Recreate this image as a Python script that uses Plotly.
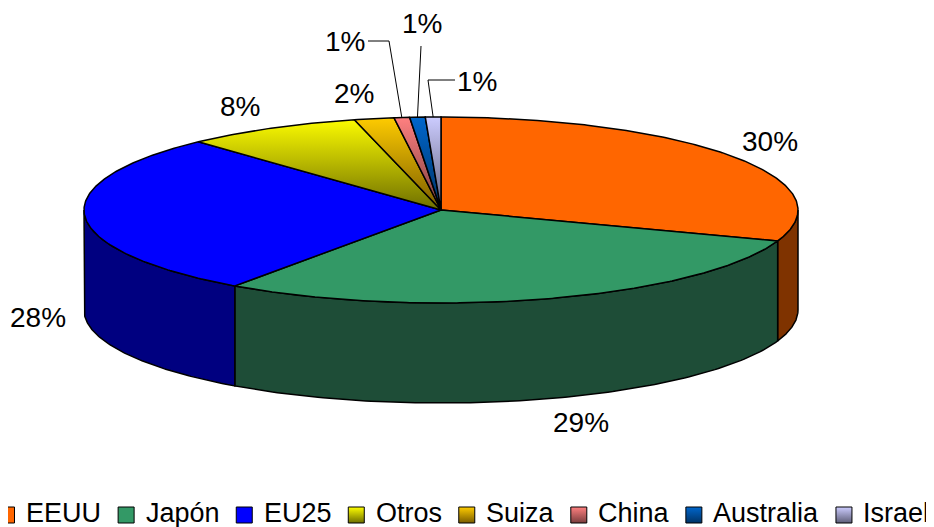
import numpy as np
import plotly.graph_objects as go

# ---- data ----
categories = ["EEUU", "Japón", "EU25", "Otros", "Suiza", "China", "Australia", "Israel"]
values = [30.4, 29.4, 28.3, 8.0, 1.8, 0.7, 0.7, 0.7]
top_colors = ["#FF6600", "#339966", "#0000FF", "#FFFF00", "#FFCC00", "#FF8080", "#0066CC", "#CCCCFF"]
inner_colors = ["#FF6600", "#339966", "#0000FF", "#6E6E00", "#7A5C00", "#7A3D3D", "#003366", "#5E5E78"]
side_colors = ["#7F3300", "#1E4D37", "#000080", "#808000", "#806600", "#804040", "#003366", "#666680"]
gradient_slice = [False, False, False, True, True, True, True, True]

# ---- geometry (pixel-like axes, compensating the page's 8px body margin) ----
W, H = 934, 527
OFF = 8
CX, CY, RX, RY, DEPTH = 441, 210, 357, 93, 100
FONT = "Liberation Sans, Arial, sans-serif"

total = sum(values)
fracs = np.array(values) / total
ends = 90 - 360 * np.cumsum(fracs)
starts = np.concatenate([[90.0], ends[:-1]])


def ell(theta_deg, dy=0.0):
    t = np.radians(theta_deg)
    return CX + RX * np.cos(t), CY - RY * np.sin(t) + dy


fig = go.Figure()

# side faces (front half only)
for i in range(len(values)):
    a = min(starts[i], 0.0)
    b = max(ends[i], -180.0)
    if a <= b:
        continue
    th = np.linspace(a, b, 120)
    xt, yt = ell(th)
    xb, yb = ell(th[::-1], DEPTH)
    xs = np.concatenate([xt, xb, xt[:1]])
    ys = np.concatenate([yt, yb, yt[:1]])
    fig.add_trace(go.Scatter(x=xs, y=ys, mode="lines", fill="toself",
                             fillcolor=side_colors[i],
                             line=dict(color="black", width=1.5),
                             hoverinfo="skip", showlegend=False))

# top faces
for i in range(len(values)):
    n = max(8, int(abs(starts[i] - ends[i]) * 2))
    th = np.linspace(starts[i], ends[i], n)
    xa, ya = ell(th)
    xs = np.concatenate([[CX], xa, [CX]])
    ys = np.concatenate([[CY], ya, [CY]])
    kw = dict(fillcolor=top_colors[i])
    if gradient_slice[i]:
        kw = dict(fillgradient=dict(type="vertical",
                                    colorscale=[[0, top_colors[i]], [1, inner_colors[i]]],
                                    start=CY - RY, stop=CY))
    fig.add_trace(go.Scatter(x=xs, y=ys, mode="lines", fill="toself",
                             line=dict(color="black", width=1.5),
                             hoverinfo="skip", showlegend=False, **kw))

# percentage labels
pct_text = [f"{round(v / total * 100):d}%" for v in values]
small_label_pos = {"China": (345, 41), "Australia": (422, 23), "Israel": (477, 81)}
leader_elbows = {"China": [(368, 41), (389, 41)],
                 "Australia": [(421, 46), (420, 68)],
                 "Israel": [(455, 80), (428, 80)]}

for i, cat in enumerate(categories):
    mid = (starts[i] + ends[i]) / 2
    if cat in small_label_pos:
        lx, ly = small_label_pos[cat]
        px, py = ell(mid)
        pts = leader_elbows[cat] + [(px, py)]
        fig.add_trace(go.Scatter(x=[p[0] for p in pts], y=[p[1] for p in pts],
                                 mode="lines", line=dict(color="black", width=1),
                                 hoverinfo="skip", showlegend=False))
    else:
        t = np.radians(mid)
        front = np.sin(t) < 0
        f = float(np.clip((0.55 - abs(np.cos(t))) / 0.25, 0, 1))
        kx = 1.13 + 0.17 * f
        lx = CX + RX * kx * np.cos(t)
        ly = CY - RY * 1.27 * np.sin(t) + (DEPTH if front else 0)
    fig.add_annotation(x=lx, y=ly, text=pct_text[i], showarrow=False,
                       font=dict(family=FONT, size=28, color="black"),
                       xanchor="center", yanchor="middle")

# ---- legend (built as a row of squares + labels, Arial metrics) ----
ARIAL_W = {"E": 667, "U": 722, "J": 500, "a": 556, "p": 556, "ó": 556, "n": 556,
           "2": 556, "5": 556, "O": 778, "t": 278, "r": 333, "o": 556, "s": 500,
           "S": 667, "u": 556, "i": 222, "z": 500, "C": 722, "h": 556, "A": 667,
           "l": 222, "I": 278, "e": 556}
LEG_SIZE = 27
LEG_Y = 513
text_x = 24.0
sq_x, txt_x = [], []
for i, cat in enumerate(categories):
    if i > 0:
        sq_left = text_x + 17.5
        text_x = sq_left + 26
    txt_x.append(text_x)
    sq_x.append(text_x - 26 + 8.5)
    text_x = text_x + sum(ARIAL_W.get(c, 556) for c in cat) / 1000 * 27.4

fig.add_trace(go.Scatter(
    x=sq_x, y=[LEG_Y + 2] * len(categories), mode="markers",
    marker=dict(symbol="square", size=16, color=top_colors,
                line=dict(color="black", width=1),
                gradient=dict(type=["vertical" if g else "none" for g in gradient_slice],
                              color=inner_colors)),
    hoverinfo="skip", showlegend=False))
for i, cat in enumerate(categories):
    fig.add_annotation(x=txt_x[i], y=LEG_Y, text=cat, showarrow=False,
                       font=dict(family=FONT, size=LEG_SIZE, color="black"),
                       xanchor="left", yanchor="middle")

fig.update_layout(
    width=W, height=H,
    margin=dict(l=0, r=0, t=0, b=0, autoexpand=False),
    paper_bgcolor="white", plot_bgcolor="white",
    xaxis=dict(range=[OFF, W + OFF], visible=False, fixedrange=True),
    yaxis=dict(range=[H + OFF, OFF], visible=False, fixedrange=True),
    showlegend=False,
)

fig.write_html("out.html")
